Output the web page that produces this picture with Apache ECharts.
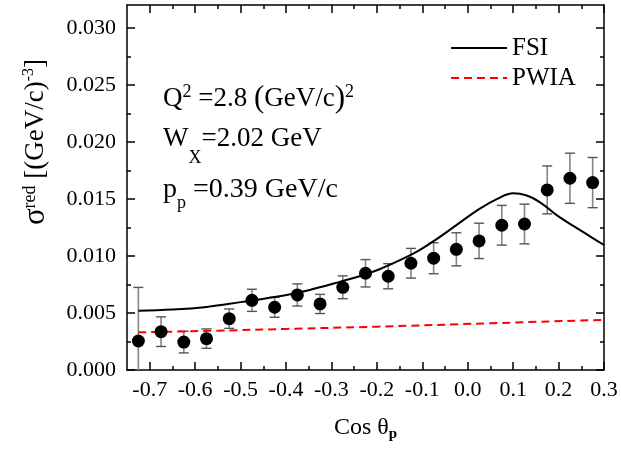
<!DOCTYPE html>
<html>
<head>
<meta charset="utf-8">
<script src="https://cdn.jsdelivr.net/npm/echarts@6/dist/echarts.min.js"></script>
<style>html,body{margin:0;padding:0;background:#fff}#c{width:621px;height:449px}</style>
</head>
<body>
<div id="c"></div>
<script>
const xMajorTicks = [-0.7, -0.6, -0.5, -0.4, -0.3, -0.2, -0.1, 0.0, 0.1, 0.2, 0.3];
const xMinorTicks = [-0.65, -0.55, -0.45, -0.35, -0.25, -0.15, -0.05, 0.05, 0.15, 0.25];
const yMajorTicks = [0, 0.005, 0.010, 0.015, 0.020, 0.025, 0.030];
const yMinorTicks = [0.0025, 0.0075, 0.0125, 0.0175, 0.0225, 0.0275];

const cosTheta = [-0.725, -0.675, -0.625, -0.575, -0.525, -0.475, -0.425, -0.375, -0.325, -0.275,
  -0.225, -0.175, -0.125, -0.075, -0.025, 0.025, 0.075, 0.125, 0.175, 0.225, 0.275];
const sigma = [0.00254, 0.00336, 0.00245, 0.00275, 0.0045, 0.00611, 0.0055, 0.00658, 0.00579, 0.00725,
  0.00848, 0.00822, 0.00936, 0.0098, 0.01058, 0.01132, 0.01269, 0.0128, 0.01579, 0.01681, 0.01643];
const sigmaErr = [0.0047, 0.0013, 0.00095, 0.00085, 0.00085, 0.00097, 0.00088, 0.00097, 0.00084, 0.001,
  0.0012, 0.0011, 0.0013, 0.00136, 0.00145, 0.00155, 0.00174, 0.00174, 0.0021, 0.0022, 0.0022];

const fsiX = [-0.725, -0.65, -0.575, -0.5, -0.425, -0.35, -0.28, -0.225, -0.19, -0.12, -0.075, -0.025,
  0.025, 0.065, 0.10, 0.13, 0.16, 0.195, 0.235, 0.27, 0.30];
const fsiY = [0.0052, 0.0053, 0.00553, 0.00595, 0.0064, 0.0070, 0.00775, 0.0084, 0.0089, 0.0102, 0.0113, 0.0127,
  0.0141, 0.0150, 0.0155, 0.0153, 0.01468, 0.0136, 0.01257, 0.0117, 0.01096];

const pwiaX = [-0.725, -0.55, -0.4, -0.2, 0.05, 0.3];
const pwiaY = [0.0033, 0.00345, 0.0036, 0.0038, 0.0041, 0.0044];

const FONT = 'Liberation Serif';
const chart = echarts.init(document.getElementById('c'));

function xAx(pos, ticks, len, withLine, withLabels) {
  return {
    type: 'value', position: pos, min: -0.75, max: 0.3,
    axisLine: { show: withLine, onZero: false, lineStyle: { color: '#000', width: 1.5 } },
    axisTick: { show: true, inside: true, length: len, customValues: ticks, lineStyle: { color: '#000', width: 1.5 } },
    axisLabel: withLabels ? {
      show: true, customValues: ticks, margin: 9, color: '#000', fontFamily: FONT, fontSize: 22,
      formatter: v => v.toFixed(1)
    } : { show: false },
    splitLine: { show: false }
  };
}
function yAx(pos, ticks, len, withLine, withLabels) {
  return {
    type: 'value', position: pos, min: 0, max: 0.032,
    axisLine: { show: withLine, onZero: false, lineStyle: { color: '#000', width: 1.5 } },
    axisTick: { show: true, inside: true, length: len, customValues: ticks, lineStyle: { color: '#000', width: 1.5 } },
    axisLabel: withLabels ? {
      show: true, customValues: ticks, margin: 11, color: '#000', fontFamily: FONT, fontSize: 22,
      formatter: v => v.toFixed(3)
    } : { show: false },
    splitLine: { show: false }
  };
}

const xa0 = xAx('bottom', xMajorTicks, 8, true, true);
xa0.name = '{a|Cos θ}{b|p}';
xa0.nameLocation = 'middle';
xa0.nameGap = 44;
xa0.nameTextStyle = {
  rich: {
    a: { fontFamily: FONT, fontSize: 24, color: '#000', lineHeight: 28 },
    b: { fontFamily: FONT, fontSize: 15, fontWeight: 'bold', color: '#000', lineHeight: 14, verticalAlign: 'bottom' }
  }
};

const subRich = function (size, lineH) {
  return {
    m: { fontFamily: FONT, fontSize: size, color: '#000', lineHeight: lineH, verticalAlign: 'top' },
    b: { fontFamily: FONT, fontSize: 18, color: '#000', lineHeight: 10, verticalAlign: 'bottom' }
  };
};

const option = {
  animation: false,
  backgroundColor: '#fff',
  grid: { left: 127, right: 17, top: 5, bottom: 79 },
  xAxis: [
    xa0,
    xAx('bottom', xMinorTicks, 4, false, false),
    xAx('top', xMajorTicks, 8, true, false),
    xAx('top', xMinorTicks, 4, false, false)
  ],
  yAxis: [
    yAx('left', yMajorTicks, 8, true, true),
    yAx('left', yMinorTicks, 4, false, false),
    yAx('right', yMajorTicks, 8, true, false),
    yAx('right', yMinorTicks, 4, false, false)
  ],
  legend: {
    data: ['FSI', 'PWIA'], orient: 'vertical', left: 450, top: 35, padding: 0,
    itemWidth: 56, itemHeight: 14, itemGap: 4,
    itemStyle: { color: 'rgba(0,0,0,0)', borderColor: 'rgba(0,0,0,0)', borderWidth: 0, opacity: 0 },
    textStyle: { fontFamily: FONT, fontSize: 25, color: '#000', lineHeight: 26 }
  },
  graphic: [
    {
      type: 'text', x: 36, y: 142, rotation: Math.PI / 2,
      style: {
        text: '{s|σ}{u|red}{n| [(GeV/c)}{v|-3}{n|]}',
        align: 'center', verticalAlign: 'middle',
        rich: {
          s: { fontFamily: FONT, fontSize: 31, color: '#000', lineHeight: 30 },
          u: { fontFamily: FONT, fontSize: 18, color: '#000', lineHeight: 16, verticalAlign: 'top' },
          n: { fontFamily: FONT, fontSize: 27, color: '#000', lineHeight: 30 },
          v: { fontFamily: FONT, fontSize: 16, color: '#000', lineHeight: 14, verticalAlign: 'top' }
        }
      }
    },
    {
      type: 'text', x: 163, y: 99,
      style: {
        text: '{m|Q}{s|2}{m| =2.8 }{p|(}{m|GeV/c}{p|)}{s|2}',
        align: 'left', verticalAlign: 'middle',
        rich: {
          m: { fontFamily: FONT, fontSize: 27, color: '#000', lineHeight: 32 },
          p: { fontFamily: FONT, fontSize: 31, color: '#000', lineHeight: 32 },
          s: { fontFamily: FONT, fontSize: 18, color: '#000', lineHeight: 16, verticalAlign: 'top' }
        }
      }
    },
    {
      type: 'text', x: 163, y: 146,
      style: {
        text: '{m|W}{b|X}{m|=2.02 GeV}',
        align: 'left', verticalAlign: 'middle',
        rich: subRich(27, 42)
      }
    },
    {
      type: 'text', x: 163, y: 194,
      style: {
        text: '{m|p}{b|p}{m| =0.39 GeV/c}',
        align: 'left', verticalAlign: 'middle',
        rich: subRich(28, 37)
      }
    }
  ],
  series: [
    {
      name: 'err', type: 'custom', clip: true, z: 2,
      data: cosTheta.map((x, i) => [x, sigma[i] - sigmaErr[i], sigma[i] + sigmaErr[i]]),
      renderItem: function (params, api) {
        const x = api.value(0);
        const lo = api.coord([x, api.value(1)]);
        const hi = api.coord([x, api.value(2)]);
        const w = 5;
        return {
          type: 'group',
          children: [
            { type: 'line', shape: { x1: lo[0], y1: lo[1], x2: hi[0], y2: hi[1] }, style: { stroke: '#858585', lineWidth: 1.6 } },
            { type: 'line', shape: { x1: hi[0] - w, y1: hi[1], x2: hi[0] + w, y2: hi[1] }, style: { stroke: '#555', lineWidth: 1.4 } },
            { type: 'line', shape: { x1: lo[0] - w, y1: lo[1], x2: lo[0] + w, y2: lo[1] }, style: { stroke: '#555', lineWidth: 1.4 } }
          ]
        };
      }
    },
    {
      name: 'data', type: 'scatter', z: 4, symbol: 'circle', symbolSize: 13,
      itemStyle: { color: '#000', opacity: 1 },
      data: cosTheta.map((x, i) => [x, sigma[i]])
    },
    {
      name: 'FSI', type: 'line', z: 3, smooth: 0.4, symbol: 'none', showSymbol: false,
      lineStyle: { color: '#000', width: 2 }, itemStyle: { color: '#000' },
      data: fsiX.map((x, i) => [x, fsiY[i]])
    },
    {
      name: 'PWIA', type: 'line', z: 3, smooth: true, symbol: 'none', showSymbol: false,
      lineStyle: { color: '#ff0000', width: 2, type: [8, 5] }, itemStyle: { color: '#ff0000' },
      data: pwiaX.map((x, i) => [x, pwiaY[i]])
    }
  ]
};
chart.setOption(option);
</script>
</body>
</html>
